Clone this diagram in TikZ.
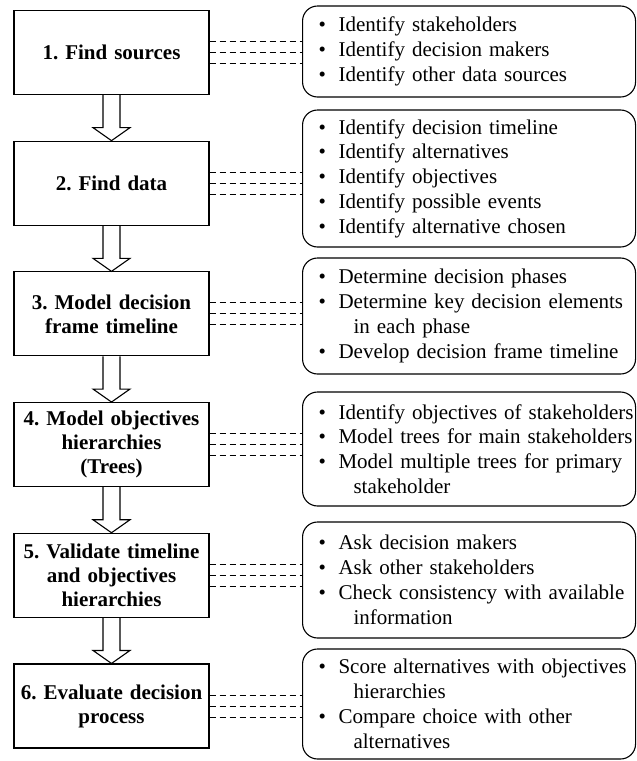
\documentclass[tikz,border=0pt]{standalone}
\usepackage{fontspec}
\setmainfont{Liberation Serif}
\usetikzlibrary{positioning,calc}

\tikzset{
  stage/.style={draw, line width=1.1pt, minimum width=195pt, minimum height=84pt,
    text width=191pt, inner sep=2pt, align=center,
    font=\fontsize{21}{24}\selectfont\bfseries},
  tasks/.style={draw, line width=1.1pt, rounded corners=15pt, anchor=west,
    minimum width=333pt, text width=313pt, inner xsep=10pt, inner ysep=4pt,
    align=left, font=\fontsize{21}{24.8}\selectfont},
  link/.style={line width=0.9pt, dash pattern=on 6pt off 4pt},
  hollow/.style={line width=1.1pt, line join=miter}
}
\newcommand{\taskline}[1]{\mbox{\hspace*{6pt}\makebox[20pt][l]{\textbullet}#1}}
\newcommand{\taskmore}[1]{\mbox{\hspace*{41pt}#1}}

\begin{document}
\begin{tikzpicture}[x=1pt,y=-1pt]
  \useasboundingbox (0,0) rectangle (637,761);

  % Stages on the left
  \node[stage] (s1) at (111.5,52.5) {1.\ Find sources};
  \node[stage, below=45.6pt of s1] (s2) {2.\ Find data};
  \node[stage, below=45.6pt of s2] (s3) {3.\ Model decision\\frame timeline};
  \node[stage, below=45.6pt of s3] (s4) {4.\ Model objectives\\hierarchies\\(Trees)};
  \node[stage, below=45.6pt of s4] (s5) {5.\ Validate timeline\\and objectives\\hierarchies};
  \node[stage, below=45.6pt of s5] (s6) {6.\ Evaluate decision\\process};

  % Tasks on the right
  \node[tasks, minimum height=91pt] (r1) at (302,51.5) {%
    \taskline{Identify stakeholders}\\
    \taskline{Identify decision makers}\\
    \taskline{Identify other data sources}};
  \node[tasks, minimum height=137pt] (r2) at (302,178.5) {%
    \taskline{Identify decision timeline}\\
    \taskline{Identify alternatives}\\
    \taskline{Identify objectives}\\
    \taskline{Identify possible events}\\
    \taskline{Identify alternative chosen}};
  \node[tasks, minimum height=116pt] (r3) at (302,316) {%
    \taskline{Determine decision phases}\\
    \taskline{Determine key decision elements}\\
    \taskmore{in each phase}\\
    \taskline{Develop decision frame timeline}};
  \node[tasks, minimum height=114pt] (r4) at (302,449) {%
    \taskline{Identify objectives of stakeholders}\\
    \taskline{Model trees for main stakeholders}\\
    \taskline{Model multiple trees for primary}\\
    \taskmore{stakeholder}};
  \node[tasks, minimum height=116pt] (r5) at (302,580) {%
    \taskline{Ask decision makers}\\
    \taskline{Ask other stakeholders}\\
    \taskline{Check consistency with available}\\
    \taskmore{information}};
  \node[tasks, minimum height=110pt] (r6) at (302,704) {%
    \taskline{Score alternatives with objectives}\\
    \taskmore{hierarchies}\\
    \taskline{Compare choice with other}\\
    \taskmore{alternatives}};

  % Dashed links
  \foreach \i in {1,...,6} {
    \foreach \dy in {-11,0,11} {
      \path ($(s\i.east)+(0,\dy)$) coordinate (p);
      \draw[link] (p) -- (p -| r\i.west);
    }
  }

  % Hollow arrows between stages
  \foreach \i [evaluate=\i as \j using int(\i+1)] in {1,...,5}
    \draw[hollow] ($(s\i.south)+(-8.5,0)$) -- ($(s\j.north)+(-8.5,-13)$)
      -- ($(s\j.north)+(-18.5,-13)$) -- (s\j.north)
      -- ($(s\j.north)+(18.5,-13)$) -- ($(s\j.north)+(8.5,-13)$)
      -- ($(s\i.south)+(8.5,0)$);
\end{tikzpicture}
\end{document}
